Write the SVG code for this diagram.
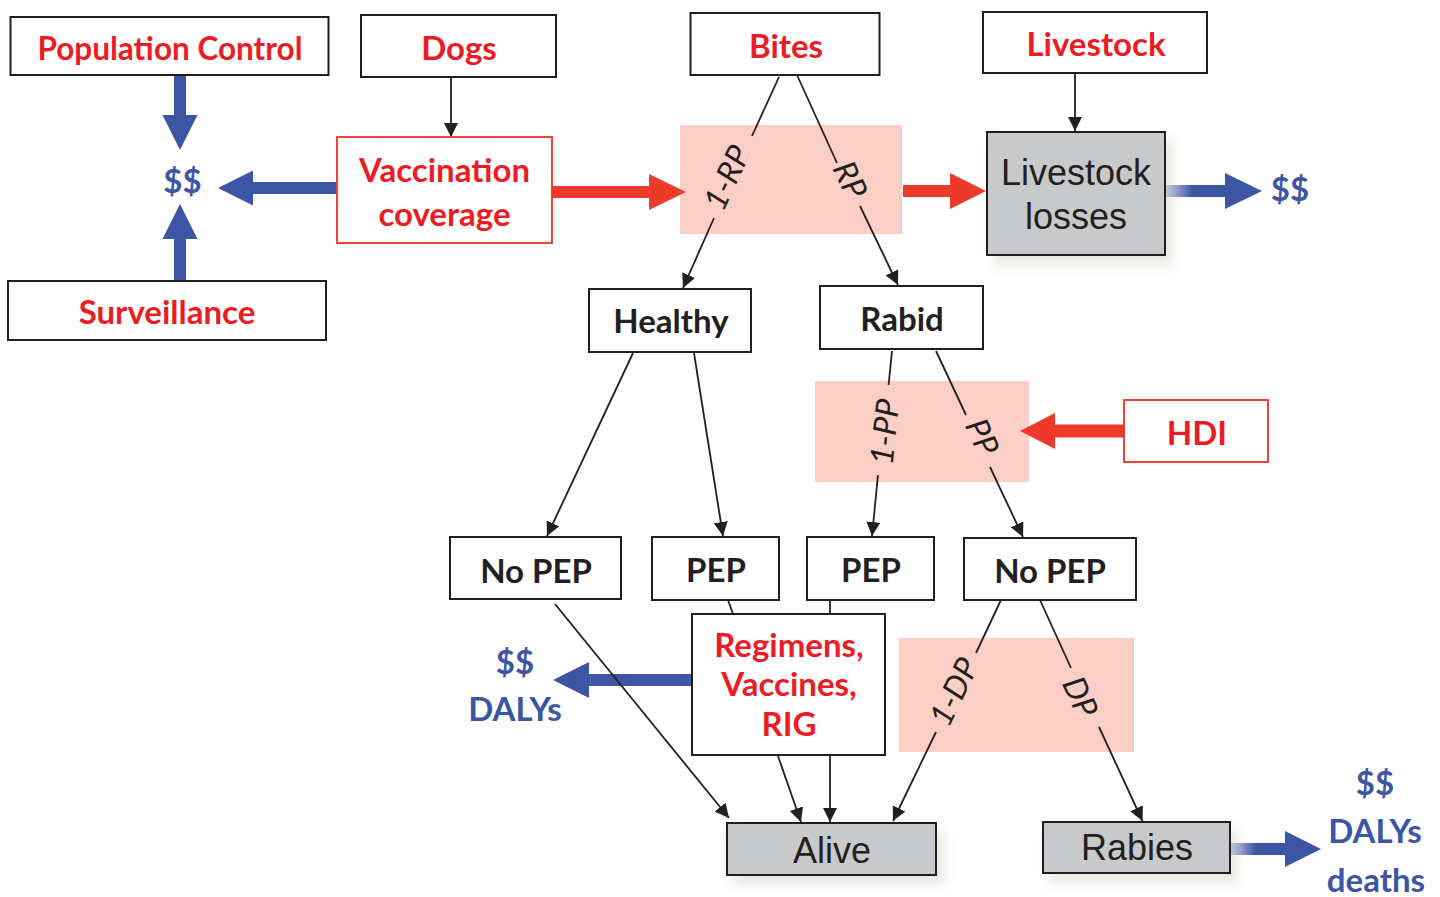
<svg xmlns="http://www.w3.org/2000/svg" width="1440" height="897" viewBox="0 0 1440 897">
<style>
.box{fill:#fff;stroke:#231f20;stroke-width:2}
.rbox{fill:#fff;stroke:#ee3124;stroke-width:1.8}
.gbox{fill:#c8c9cb;stroke:#231f20;stroke-width:2}
.pink{fill:#fbcec6}
.rt{font-family:Lato,"Open Sans",sans-serif;font-weight:bold;font-size:33px;fill:#ed1c24;text-anchor:middle}
.bt{font-family:Lato,"Open Sans",sans-serif;font-weight:bold;font-size:33px;fill:#231f20;text-anchor:middle}
.ut{font-family:Lato,"Open Sans",sans-serif;font-weight:bold;font-size:33px;fill:#3c55a5;text-anchor:middle}
.at{font-family:"Liberation Sans",Arial,sans-serif;font-size:36px;fill:#231f20;text-anchor:middle}
.lt{font-family:Lato,"Open Sans",sans-serif;font-style:italic;font-size:32px;fill:#231f20;text-anchor:middle}
.ln{stroke:#231f20;stroke-width:1.8;fill:none}
.ar{marker-end:url(#ah)}
.red{fill:#ee3a2a}
.blue{fill:#3c55a5}
</style>
<defs>
<marker id="ah" markerUnits="userSpaceOnUse" markerWidth="15" markerHeight="14" refX="14" refY="7" orient="auto">
<path d="M0,0 L14,7 L0,14 z" fill="#231f20"/>
</marker>
<linearGradient id="fade" x1="0" y1="0" x2="1" y2="0">
<stop offset="0" stop-color="#d3daef"/>
<stop offset="0.28" stop-color="#3c55a5"/>
<stop offset="1" stop-color="#3c55a5"/>
</linearGradient>
<filter id="sh" x="-20%" y="-20%" width="150%" height="160%">
<feDropShadow dx="7" dy="9" stdDeviation="6" flood-color="#6b7040" flood-opacity="0.16"/>
</filter>
</defs>

<g id="pinks">
<rect class="pink" x="680" y="125" width="222" height="109"/>
<rect class="pink" x="815" y="381" width="214" height="101"/>
<rect class="pink" x="899" y="638" width="235" height="114"/>
</g>

<g id="connectors">
<polygon class="blue" points="174,75 186,75 186,115 197.5,115 180,150 162.5,115 174,115"/>
<polygon class="blue" points="174,281 186,281 186,239 197.5,239 180,204 162.5,239 174,239"/>
<polygon class="blue" points="336,182 253,182 253,170.5 218,188 253,205.5 253,194 336,194"/>
<polygon class="blue" points="692,674 589,674 589,662 553,680 589,698 589,686 692,686"/>
<polygon class="red" points="551,186 649,186 649,174 686,192 649,210 649,198 551,198"/>
<polygon class="red" points="903,185 950,185 950,173 986,191 950,209 950,197 903,197"/>
<polygon class="red" points="1125,424.5 1055,424.5 1055,413 1020,431 1055,449 1055,437.5 1125,437.5"/>
<polygon fill="url(#fade)" points="1165,185 1225,185 1225,173 1262,191 1225,209 1225,197 1165,197"/>
<polygon fill="url(#fade)" points="1230,843 1285,843 1285,831 1321,849 1285,867 1285,855 1230,855"/>

<line class="ln ar" x1="451" y1="78" x2="451" y2="137"/>
<line class="ln ar" x1="1075" y1="74" x2="1075" y2="131"/>
<line class="ln" x1="779" y1="77" x2="752" y2="136"/>
<line class="ln ar" x1="714" y1="218" x2="683" y2="288"/>
<line class="ln" x1="797" y1="75" x2="837" y2="163"/>
<line class="ln ar" x1="860" y1="206" x2="898" y2="285"/>
<line class="ln ar" x1="633" y1="353" x2="547" y2="536"/>
<line class="ln ar" x1="694" y1="353" x2="723" y2="536"/>
<line class="ln" x1="892" y1="351" x2="888.6" y2="385"/>
<line class="ln ar" x1="878" y1="475" x2="872" y2="536"/>
<line class="ln" x1="936" y1="351" x2="966" y2="415"/>
<line class="ln ar" x1="990" y1="467" x2="1023" y2="537"/>
<line class="ln" x1="728" y1="600" x2="733" y2="614"/>
<line class="ln" x1="830" y1="600" x2="830" y2="614"/>
<line class="ln ar" x1="555" y1="604" x2="729" y2="818"/>
<line class="ln ar" x1="778" y1="756" x2="801" y2="822"/>
<line class="ln ar" x1="830" y1="756" x2="830" y2="822"/>
<line class="ln" x1="1001" y1="600" x2="976" y2="653"/>
<line class="ln ar" x1="936" y1="732" x2="893" y2="821"/>
<line class="ln" x1="1040" y1="600" x2="1071" y2="668"/>
<line class="ln ar" x1="1099" y1="727" x2="1142.5" y2="821"/>

<text class="lt" transform="translate(727,178) rotate(-65)" y="11">1-RP</text>
<text class="lt" transform="translate(850,180) rotate(64)" y="11">RP</text>
<text class="lt" transform="translate(885,432) rotate(-84)" y="11">1-PP</text>
<text class="lt" transform="translate(982,437) rotate(65)" y="11">PP</text>
<text class="lt" transform="translate(954,692) rotate(-64)" y="11">1-DP</text>
<text class="lt" transform="translate(1080,697) rotate(65)" y="11">DP</text>
</g>

<g id="population-control"><rect class="box" x="10.5" y="17" width="318" height="58"/><text class="rt" x="170" y="60" style="font-size:31.5px">Population Control</text></g>
<g id="dogs"><rect class="box" x="361" y="15" width="195" height="62"/><text class="rt" x="459" y="60">Dogs</text></g>
<g id="bites"><rect class="box" x="690.5" y="13" width="189" height="62"/><text class="rt" x="786" y="58">Bites</text></g>
<g id="livestock"><rect class="box" x="983" y="12" width="224" height="61"/><text class="rt" x="1096" y="56">Livestock</text></g>
<g id="surveillance"><rect class="box" x="8" y="281" width="318" height="59"/><text class="rt" x="167" y="324">Surveillance</text></g>
<g id="vaccination-coverage"><rect class="rbox" x="337" y="137" width="215" height="106"/><text class="rt" x="444.5" y="182">Vaccination</text><text class="rt" x="444.5" y="226">coverage</text></g>
<g id="cost-left"><text class="ut" x="182.5" y="193">$$</text></g>
<g id="livestock-losses"><rect class="gbox" filter="url(#sh)" x="987" y="132" width="178" height="123"/><text class="at" x="1076" y="185">Livestock</text><text class="at" x="1076" y="229">losses</text></g>
<g id="cost-livestock"><text class="ut" x="1290" y="201">$$</text></g>
<g id="healthy"><rect class="box" x="589" y="289" width="162" height="63"/><text class="bt" x="671" y="333">Healthy</text></g>
<g id="rabid"><rect class="box" x="820" y="286" width="163" height="63"/><text class="bt" x="902" y="331">Rabid</text></g>
<g id="hdi"><rect class="rbox" x="1124" y="400" width="144" height="62"/><text class="rt" x="1197" y="445">HDI</text></g>
<g id="no-pep-healthy"><rect class="box" x="450" y="537" width="171" height="62"/><text class="bt" x="536" y="583">No PEP</text></g>
<g id="pep-healthy"><rect class="box" x="652" y="537" width="127" height="63"/><text class="bt" x="716" y="582">PEP</text></g>
<g id="pep-rabid"><rect class="box" x="807" y="537" width="127" height="63"/><text class="bt" x="871" y="582">PEP</text></g>
<g id="no-pep-rabid"><rect class="box" x="964" y="538" width="172" height="62"/><text class="bt" x="1050" y="583">No PEP</text></g>
<g id="regimens"><rect class="box" x="692" y="614" width="193" height="141"/><text class="rt" x="789" y="657">Regimens,</text><text class="rt" x="789" y="696">Vaccines,</text><text class="rt" x="789" y="736">RIG</text></g>
<g id="cost-pep"><text class="ut" x="515" y="674">$$</text><text class="ut" x="515" y="721">DALYs</text></g>
<g id="alive"><rect class="gbox" filter="url(#sh)" x="727" y="823" width="209" height="52"/><text class="at" x="832" y="863">Alive</text></g>
<g id="rabies"><rect class="gbox" filter="url(#sh)" x="1043" y="822" width="187" height="51"/><text class="at" x="1137" y="860">Rabies</text></g>
<g id="cost-rabies"><text class="ut" x="1375" y="795">$$</text><text class="ut" x="1375" y="843">DALYs</text><text class="ut" x="1376" y="892">deaths</text></g>
</svg>
